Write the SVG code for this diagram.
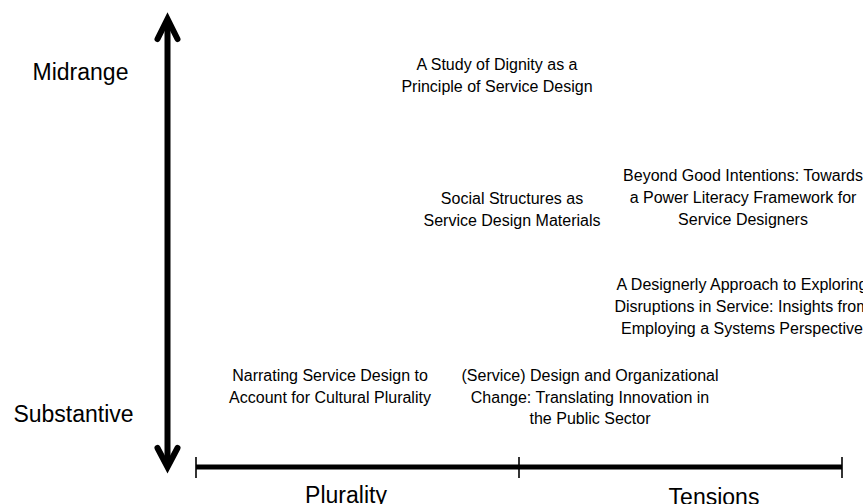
<svg xmlns="http://www.w3.org/2000/svg" width="863" height="504" viewBox="0 0 863 504">
  <style>
    .axis { stroke: #000; fill: none; }
    .stem { stroke-width: 6; }
    .head { stroke-width: 6; stroke-linecap: round; stroke-linejoin: miter; stroke-miterlimit: 10; }
    .bar { stroke-width: 5; }
    .tick { stroke-width: 1.6; }
    .paper { font-family: "Liberation Sans", Arial, sans-serif; font-size: 16px; fill: #000; text-anchor: middle; }
    .scale { font-family: "Liberation Sans", Arial, sans-serif; font-size: 23px; fill: #000; text-anchor: middle; }
  </style>
  <rect width="863" height="504" fill="#fff"/>

  <!-- axes -->
  <g id="connectors">
    <!-- vertical double-headed arrow -->
    <line class="axis stem" x1="167.5" y1="20" x2="167.5" y2="466"/>
    <path class="axis head" d="M157.5,39 L167.5,19 L177.5,39"/>
    <path class="axis head" d="M157.5,448 L167.5,467 L177.5,448"/>
    <!-- horizontal bar with ticks -->
    <line class="axis bar" x1="196" y1="467" x2="842" y2="467"/>
    <line class="axis tick" x1="196" y1="457" x2="196" y2="478"/>
    <line class="axis tick" x1="519" y1="457" x2="519" y2="478"/>
    <line class="axis tick" x1="842" y1="457" x2="842" y2="478"/>
  </g>

  <!-- scale labels -->
  <g id="label-midrange"><text class="scale" x="80.5" y="80">Midrange</text></g>
  <g id="label-substantive"><text class="scale" x="73.5" y="422">Substantive</text></g>
  <g id="label-plurality"><text class="scale" x="346" y="503">Plurality</text></g>
  <g id="label-tensions"><text class="scale" x="714" y="505">Tensions</text></g>

  <!-- papers -->
  <g id="paper-dignity">
    <text class="paper" x="497" y="70">A Study of Dignity as a</text>
    <text class="paper" x="497" y="91.5">Principle of Service Design</text>
  </g>
  <g id="paper-social-structures">
    <text class="paper" x="512" y="204">Social Structures as</text>
    <text class="paper" x="512" y="226">Service Design Materials</text>
  </g>
  <g id="paper-power-literacy">
    <text class="paper" x="743" y="181">Beyond Good Intentions: Towards</text>
    <text class="paper" x="743" y="203">a Power Literacy Framework for</text>
    <text class="paper" x="743" y="225">Service Designers</text>
  </g>
  <g id="paper-disruptions">
    <text class="paper" x="742" y="290">A Designerly Approach to Exploring</text>
    <text class="paper" x="742" y="312">Disruptions in Service: Insights from</text>
    <text class="paper" x="742" y="334">Employing a Systems Perspective</text>
  </g>
  <g id="paper-cultural-plurality">
    <text class="paper" x="330" y="381">Narrating Service Design to</text>
    <text class="paper" x="330" y="402.5">Account for Cultural Plurality</text>
  </g>
  <g id="paper-organizational-change">
    <text class="paper" x="590" y="381">(Service) Design and Organizational</text>
    <text class="paper" x="590" y="402.5">Change: Translating Innovation in</text>
    <text class="paper" x="590" y="424">the Public Sector</text>
  </g>
</svg>
